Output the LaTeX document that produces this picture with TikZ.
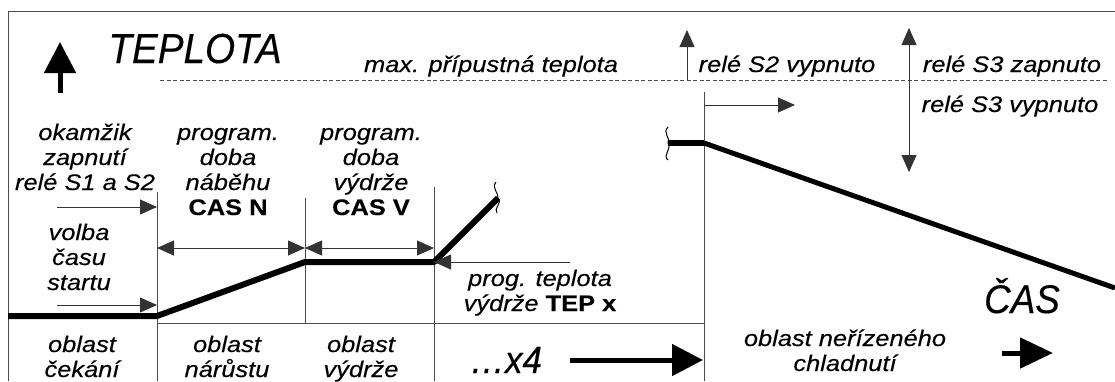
\documentclass[tikz,border=0pt]{standalone}
\usepackage{fontspec}
\setmainfont{Liberation Sans}
\newfontfamily\widefont[FakeStretch=1.13,FakeBold=0.3]{Liberation Sans}
\newfontfamily\narrowfont[FakeStretch=0.92,FakeBold=0.3]{Liberation Sans}
\usetikzlibrary{arrows.meta}

\tikzset{
    txt/.style={font=\widefont\itshape\fontsize{22.5}{25}\selectfont, align=center, inner sep=0pt, anchor=base},
    big/.style={font=\narrowfont\itshape\fontsize{42}{42}\selectfont, inner sep=0pt, anchor=base},
    grid line/.style={draw=black!70, line width=1pt},
    temp/.style={line width=6pt, line join=round},
    arr/.style={draw=black!80, line width=0.9pt, -{Triangle[length=17pt,width=15pt]}},
    darr/.style={draw=black!80, line width=0.9pt, {Triangle[length=17pt,width=15pt]}-{Triangle[length=17pt,width=15pt]}},
    fat arr/.style={line width=5pt, -{Triangle[length=31pt,width=31pt]}},
    squiggle/.style={line width=1pt}
}

\begin{document}
\begin{tikzpicture}[x=1pt,y=-1pt]
    \useasboundingbox (0,0) rectangle (1115,381);

    % frame and columns
    \draw[grid line] (8,381) -- (8,11) -- (1115,11);
    \draw[grid line] (157,192) -- (157,381);
    \draw[grid line] (305,198) -- (305,323);
    \draw[grid line] (434,187) -- (434,381);
    \draw[grid line] (704,92) -- (704,381);
    \draw[grid line] (157,323) -- (704,323);
    \draw[grid line, dash pattern=on 4pt off 2.5pt] (160,80) -- (1107,80);

    % temperature curve
    \coordinate (cold) at (8,316);
    \coordinate (on) at (157,316);
    \coordinate (ramp) at (305,262);
    \coordinate (hold) at (434,262);
    \coordinate (cut) at (498,198);
    \coordinate (resume) at (668,143);
    \coordinate (off) at (704,143);
    \coordinate (cool) at (1115,288);
    \draw[temp] (cold) -- (on) -- (ramp) -- (hold) -- (cut);
    \draw[temp] (resume) -- (off);
    \draw[temp, line width=5pt] (off) -- (cool);
    \draw[squiggle] (496,182) .. controls (491,188) and (499,193) .. (cut) .. controls (503,203) and (493,208) .. (497,213);
    \draw[squiggle] (668,127) .. controls (662,133) and (671,138) .. (resume) .. controls (672,150) and (662,155) .. (668,160);

    % texts (base = last line)
    \node[big] (teplota) at (195,63) {TEPLOTA};
    \node[txt] (maxt) at (491,72) {max. přípustná teplota};
    \node[txt] (s2off) at (787,72) {relé S2 vypnuto};
    \node[txt] (s3on) at (1012,72) {relé S3 zapnuto};
    \node[txt] (s3off) at (1010,112) {relé S3 vypnuto};
    \node[txt] (switchon) at (85,190) {okamžik\\zapnutí\\relé S1 a S2};
    \node[txt] (ramptime) at (228,215) {program.\\doba\\náběhu\\\textbf{\upshape CAS N}};
    \node[txt] (holdtime) at (371,215) {program.\\doba\\výdrže\\\textbf{\upshape CAS V}};
    \node[txt] (delay) at (79,290) {volba\\času\\startu};
    \node[txt] (holdtemp) at (540,311) {prog. teplota\\výdrže \textbf{\upshape TEP x}};
    \node[txt] (wait) at (82,377) {oblast\\čekání};
    \node[txt] (rise) at (227,377) {oblast\\nárůstu};
    \node[txt] (keep) at (361,377) {oblast\\výdrže};
    \node[big, font=\narrowfont\itshape\fontsize{38}{38}\selectfont] (repeat) at (506,373) {…x4};
    \node[txt] (cooling) at (845,371) {oblast neřízeného\\chladnutí};
    \node[big, font=\narrowfont\itshape\fontsize{40}{40}\selectfont] (cas) at (1022,313) {ČAS};

    % arrows
    \draw[fat arr] (60,93) -- (60,42);
    \draw[arr] (57,207) -- (157,207);
    \draw[arr] (57,305) -- (157,305);
    \draw[darr] (157,248) -- (305,248);
    \draw[darr] (305,248) -- (434,248);
    \draw[arr] (570,262) -- (hold);
    \draw[arr] (687,80) -- (687,30);
    \draw[darr] (909,172) -- (909,28);
    \draw[arr] (off |- 0,105) -- (795,105);
    \draw[fat arr] (570,360) -- (703,360);
    \draw[fat arr, -{Triangle[length=33pt,width=30pt]}] (1002,353) -- (1053,353);
\end{tikzpicture}
\end{document}
